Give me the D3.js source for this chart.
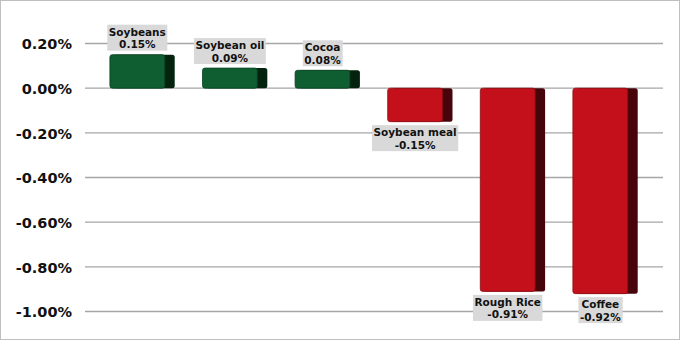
<!DOCTYPE html>
<html>
<head>
<meta charset="utf-8">
<script src="https://cdn.jsdelivr.net/npm/d3@7"></script>
<style>
  body { margin: 0; background: #fff; }
  svg { display: block; font-family: "DejaVu Sans", Verdana, sans-serif; }
</style>
</head>
<body>
<div id="chart-area"></div>
<script>
// data
var commodities = ["Soybeans", "Soybean oil", "Cocoa", "Soybean meal", "Rough Rice", "Coffee"];
var changes = [0.15, 0.09, 0.08, -0.15, -0.91, -0.92];
var yTicks = [0.2, 0, -0.2, -0.4, -0.6, -0.8, -1.0];

var W = 681, H = 341;
var side = 10; // dark side of the 3d bar

// plain hyphen minus, like the original
var pct = d => d.toFixed(2) + "%";

var svg = d3.select("#chart-area")
  .append("svg")
  .attr("width", W)
  .attr("height", H);

// outer frame
svg.append("rect")
  .attr("x", 0.5).attr("y", 0.5)
  .attr("width", W - 2).attr("height", H - 2)
  .attr("fill", "#fff")
  .attr("stroke", "#bfbfbf");

// scales
var y = d3.scaleLinear()
  .domain([-1.0, 0.2])
  .range([311.5, 43.5]);

var x = d3.scaleBand()
  .domain(commodities)
  .range([96, 651.6])
  .paddingInner(0.3)
  .paddingOuter(0.15);

// gridlines
svg.append("g")
  .selectAll("line")
  .data(yTicks)
  .enter()
  .append("line")
  .attr("x1", 85).attr("x2", 663)
  .attr("y1", d => y(d)).attr("y2", d => y(d))
  .attr("stroke", "#a6a6a6")
  .attr("stroke-width", 1.3);

// y axis labels
var yAxis = d3.axisLeft(y)
  .tickValues(yTicks)
  .tickSize(0)
  .tickPadding(0)
  .tickFormat(pct);

var yAxisGroup = svg.append("g")
  .attr("transform", "translate(72,0)")
  .call(yAxis);
yAxisGroup.select(".domain").remove();
yAxisGroup.selectAll("text")
  .attr("font-family", "'DejaVu Sans', Verdana, sans-serif")
  .attr("font-size", "14.5px")
  .attr("font-weight", "bold")
  .attr("fill", "#111")
  .attr("dy", "0.36em");

var data = commodities.map((c, i) => ({name: c, value: changes[i]}));

var bars = svg.append("g")
  .selectAll("g")
  .data(data)
  .enter()
  .append("g");

var frontW = x.bandwidth() - side;

// side face
bars.append("rect")
  .attr("x", d => x(d.name) + 4)
  .attr("y", d => Math.min(y(0), y(d.value)))
  .attr("width", x.bandwidth() - 4)
  .attr("height", d => Math.abs(y(d.value) - y(0)))
  .attr("rx", 2.5)
  .attr("fill", d => d.value >= 0 ? "#04230f" : "#47050b");

// front face
bars.append("rect")
  .attr("x", d => x(d.name))
  .attr("y", d => Math.min(y(0), y(d.value)))
  .attr("width", frontW)
  .attr("height", d => Math.abs(y(d.value) - y(0)))
  .attr("rx", 2.5)
  .attr("fill", d => d.value >= 0 ? "#0f5e31" : "#c4101b")
  .attr("stroke", d => d.value >= 0 ? "#0a4424" : "#8e0c13")
  .attr("stroke-width", 0.8);

// data labels
var labels = bars.append("g")
  .attr("transform", function(d) {
    var cx = x(d.name) + frontW / 2;
    var top = d.value >= 0 ? y(d.value) - 30 : y(d.value) + 3.5;
    return "translate(" + cx + "," + top + ")";
  });

labels.append("rect")
  .attr("fill", "#d9d9d9");

labels.append("text")
  .attr("text-anchor", "middle")
  .attr("font-size", "10.5px")
  .attr("font-weight", "bold")
  .attr("fill", "#111")
  .selectAll("tspan")
  .data(d => [d.name, pct(d.value)])
  .enter()
  .append("tspan")
  .attr("x", 0)
  .attr("y", (d, i) => 11 + i * 12.5)
  .text(d => d);

labels.each(function() {
  var g = d3.select(this);
  var bb = g.select("text").node().getBBox();
  g.select("rect")
    .attr("x", bb.x - 1.5)
    .attr("y", 0)
    .attr("width", bb.width + 3)
    .attr("height", 26);
});
</script>
</body>
</html>
